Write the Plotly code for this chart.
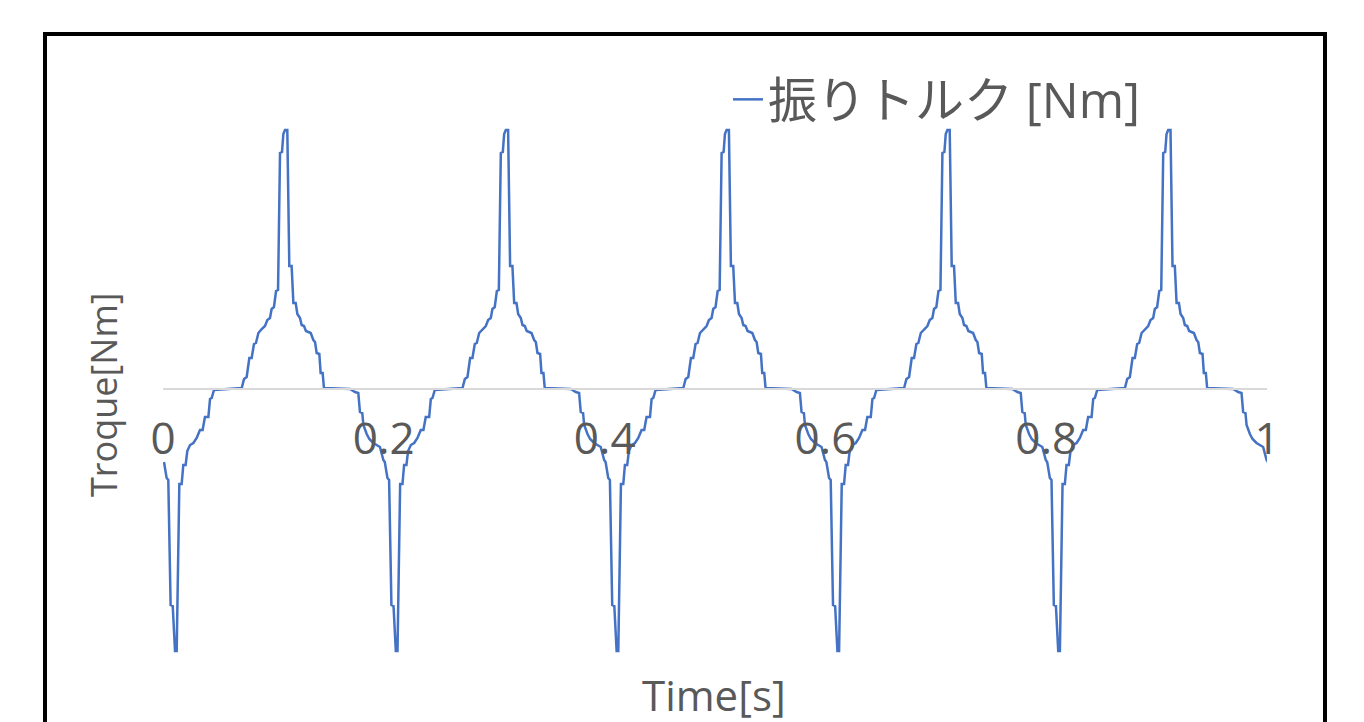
import plotly.graph_objects as go

# One period of the torsional torque waveform
# (time offset within period [s], torque [Nm])
period_t = [0.0009, 0.0033, 0.0048, 0.0069, 0.0088, 0.0109, 0.0124, 0.0148, 0.0169, 0.0184,
            0.0205, 0.0220, 0.0245, 0.0275, 0.0305, 0.0335, 0.0359, 0.0380, 0.0411, 0.0426,
            0.0441, 0.0462, 0.0713, 0.0734, 0.0758, 0.0782, 0.0803, 0.0824, 0.0842, 0.0864,
            0.0894, 0.0924, 0.0945, 0.0969, 0.0984, 0.1005, 0.1024, 0.1042, 0.1060, 0.1078,
            0.1090, 0.1105, 0.1126, 0.1144, 0.1165, 0.1181, 0.1202, 0.1217, 0.1241, 0.1256,
            0.1277, 0.1295, 0.1316, 0.1338, 0.1362, 0.1377, 0.1392, 0.1416, 0.1428, 0.1446,
            0.1458, 0.1694, 0.1739, 0.1769, 0.1784, 0.1805, 0.1815, 0.1845, 0.1869, 0.1905,
            0.1935, 0.1965, 0.1996]
period_v = [-7.3, -8.9, -9.1, -21.6, -21.7, -26.2, -26.2, -9.5, -9.5, -7.6,
            -7.6, -6.2, -5.6, -5.4, -4.9, -4.1, -4.1, -2.8, -2.8, -1.0,
            -0.9, -0.1, 0.1, 1.0, 1.2, 3.1, 3.1, 4.5, 4.6, 5.6,
            6.0, 6.3, 6.9, 7.1, 8.0, 8.2, 9.8, 9.9, 23.6, 23.7,
            25.5, 25.9, 25.9, 12.3, 12.3, 8.6, 8.6, 7.5, 7.1, 6.4,
            6.3, 5.8, 5.7, 5.6, 4.9, 4.7, 3.6, 3.5, 1.6, 1.6,
            0.1, 0.0, -0.3, -0.4, -2.3, -2.4, -3.6, -4.5, -5.0, -5.4,
            -5.6, -5.8, -7.1]
period_starts = [0.0, 0.2, 0.4, 0.6, 0.8]
end_t = [1.0009, 1.0033]
end_v = [-7.3, -8.9]

x_ticks = [0, 0.2, 0.4, 0.6, 0.8, 1]
x_ticktext = ["0", "0.2", "0.4", "0.6", "0.8", "1"]

time = []
torque = []
for s in period_starts:
    for t, v in zip(period_t, period_v):
        time.append(round(s + t, 4))
        torque.append(v)
time += end_t
torque += end_v

# page offset of the figure inside the html body (default body margin)
OX, OY = 8, 8
W, H = 1364, 722
# plot area in page pixels: x 163..1267, y 120..660
L = 163 - OX
R = W - (1267 - OX)
T = 120 - OY
B = H - (660 - OY)
pw, ph = W - L - R, H - T - B


def px_x(p):
    return (p - OX - L) / pw


def px_y(p):
    return (H - B - (p - OY)) / ph


fig = go.Figure()
fig.add_trace(go.Scatter(
    x=time, y=torque, mode="lines", name="振りトルク [Nm]",
    line=dict(color="#4472C4", width=2.5),
))

grey = "#595959"
fig.update_layout(
    width=W, height=H,
    margin=dict(l=L, r=R, t=T, b=B),
    paper_bgcolor="white", plot_bgcolor="white",
    font=dict(family="Open Sans, Noto Sans CJK JP", color=grey),
    showlegend=True,
    legend=dict(x=px_x(728), y=px_y(61), xanchor="left", yanchor="top",
                font=dict(size=49, color=grey, family="Open Sans, Noto Sans CJK JP"),
                bgcolor="rgba(0,0,0,0)", itemwidth=30),
    xaxis=dict(range=[0, 1], tickvals=x_ticks, ticktext=x_ticktext,
               anchor="free", position=px_y(389),
               showline=True, linecolor="#d9d9d9", linewidth=1.5,
               showgrid=False, zeroline=False, ticks="",
               ticklabelstandoff=11,
               tickfont=dict(size=44, color=grey, family="Open Sans")),
    yaxis=dict(range=[(389 - 660) / 10.0, (389 - 120) / 10.0],
               showticklabels=False, showgrid=False, zeroline=False,
               showline=False, ticks=""),
    annotations=[
        dict(text="Time[s]", xref="paper", yref="paper",
             x=px_x(714), y=px_y(694), xanchor="center", yanchor="middle",
             showarrow=False,
             font=dict(size=42, color=grey, family="Open Sans")),
        dict(text="Troque[Nm]", xref="paper", yref="paper",
             x=px_x(103), y=px_y(395), xanchor="center", yanchor="middle",
             showarrow=False, textangle=-90,
             font=dict(size=36, color=grey, family="Open Sans")),
    ],
    shapes=[
        dict(type="rect", xref="paper", yref="paper",
             x0=px_x(45), x1=px_x(1325), y0=px_y(760), y1=px_y(34),
             line=dict(color="black", width=4), fillcolor="rgba(0,0,0,0)",
             layer="above"),
    ],
)

fig.write_html("out.html")
